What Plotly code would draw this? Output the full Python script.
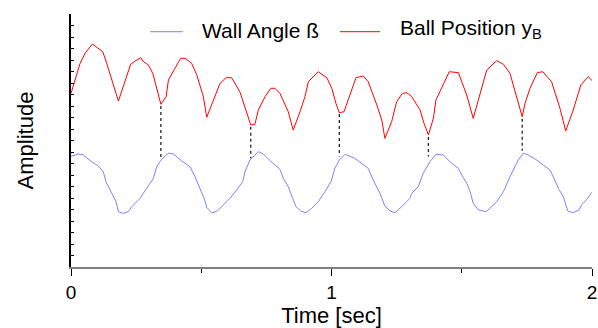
import plotly.graph_objects as go

# Ball position y_B (red)
red_t = [0.0, 0.035, 0.054, 0.082, 0.122, 0.137, 0.182, 0.214, 0.229, 0.246, 0.268, 0.278,
         0.297, 0.314, 0.329, 0.345, 0.365, 0.374, 0.399, 0.421, 0.438, 0.463, 0.483, 0.508,
         0.521, 0.553, 0.572, 0.595, 0.617, 0.649, 0.672, 0.690, 0.706, 0.719, 0.745, 0.767,
         0.783, 0.802, 0.834, 0.853, 0.879, 0.898, 0.911, 0.949, 0.982, 1.001, 1.017, 1.030,
         1.048, 1.071, 1.094, 1.122, 1.141, 1.174, 1.193, 1.205, 1.231, 1.250, 1.272, 1.290,
         1.308, 1.340, 1.355, 1.372, 1.391, 1.401, 1.423, 1.452, 1.487, 1.519, 1.544, 1.580,
         1.596, 1.634, 1.660, 1.685, 1.704, 1.732, 1.743, 1.762, 1.790, 1.811, 1.845, 1.877,
         1.899, 1.928, 1.957, 1.986, 2.0]
red_y = [15.1, 17.71, 18.58, 19.39, 18.72, 17.71, 14.43, 16.55, 17.63, 17.91, 18.2, 17.85,
         17.57, 16.84, 15.54, 14.15, 14.81, 16.26, 17.28, 18.15, 18.15, 17.71, 16.7, 14.81,
         13.02, 14.96, 15.97, 16.46, 16.46, 15.2, 13.65, 12.35, 12.41, 13.65, 14.81, 15.54,
         15.54, 15.10, 13.50, 11.91, 13.50, 14.81, 16.11, 16.98, 16.46, 15.54, 14.23, 13.42,
         13.50, 14.96, 16.46, 16.61, 16.11, 14.09, 12.78, 11.19, 12.64, 14.37, 15.10, 15.15,
         14.81, 13.65, 12.50, 11.48, 12.93, 14.52, 15.54, 16.98, 16.90, 14.96, 12.93, 15.83,
         17.13, 17.94, 17.63, 16.84, 15.24, 13.07, 14.23, 15.54, 16.90, 16.98, 16.11, 13.80,
         11.83, 13.65, 15.83, 16.55, 16.2]

# Wall angle beta (blue)
blue_t = [0.0, 0.028, 0.047, 0.079, 0.105, 0.124, 0.134, 0.156, 0.173, 0.182, 0.201, 0.220,
          0.233, 0.265, 0.291, 0.316, 0.329, 0.348, 0.374, 0.393, 0.425, 0.457, 0.476, 0.495,
          0.511, 0.521, 0.540, 0.559, 0.585, 0.610, 0.636, 0.659, 0.668, 0.687, 0.719, 0.738,
          0.764, 0.802, 0.815, 0.834, 0.851, 0.864, 0.882, 0.902, 0.924, 0.949, 0.975, 0.998,
          1.013, 1.030, 1.052, 1.090, 1.141, 1.160, 1.186, 1.205, 1.225, 1.244, 1.269, 1.301,
          1.308, 1.333, 1.352, 1.378, 1.401, 1.429, 1.461, 1.487, 1.500, 1.519, 1.532, 1.544,
          1.564, 1.593, 1.608, 1.634, 1.660, 1.685, 1.717, 1.736, 1.755, 1.788, 1.813, 1.839,
          1.854, 1.871, 1.890, 1.907, 1.928, 1.950, 1.960, 1.980, 2.0]
blue_y = [9.62, 9.83, 9.74, 9.16, 8.78, 8.29, 7.42, 6.41, 5.68, 4.81, 4.67, 4.81,
          5.24, 5.97, 6.84, 7.71, 8.72, 9.37, 9.89, 9.83, 9.22, 8.72, 7.85, 6.84,
          5.97, 5.19, 4.72, 4.81, 5.39, 5.97, 6.70, 7.42, 8.29, 9.30, 10.03, 9.83,
          9.24, 8.50, 7.71, 6.98, 5.97, 5.24, 4.87, 4.72, 5.10, 5.68, 6.55, 7.42,
          8.58, 9.30, 9.80, 9.45, 8.58, 7.57, 6.41, 5.30, 4.87, 4.72, 5.24, 5.97,
          6.41, 6.98, 8.15, 9.16, 9.80, 9.74, 9.02, 8.58, 8.00, 7.28, 6.55, 5.54,
          4.96, 4.81, 5.10, 5.68, 6.55, 7.85, 9.30, 9.89, 9.74, 9.30, 8.87, 8.43,
          7.71, 6.84, 6.11, 4.87, 4.72, 4.96, 5.39, 5.89, 6.5]

# Dashed connectors (red minimum -> blue)
dash_t = [0.345, 0.690, 1.030, 1.372, 1.732]
dash_top = [14.0, 12.2, 13.3, 11.3, 12.9]
dash_bottom = [9.55, 9.45, 9.6, 9.6, 10.1]

series_names = ["Wall Angle ß", "Ball Position y<sub>B</sub>"]
series_colors = ["#8080ff", "#ff0000"]

xs, ys = [], []
for t, a, b in zip(dash_t, dash_top, dash_bottom):
    xs += [t, t, None]
    ys += [a, b, None]

fig = go.Figure()
fig.add_trace(go.Scatter(x=xs, y=ys, mode="lines", showlegend=False, hoverinfo="skip",
                         line=dict(color="#222222", width=1.3, dash="3px,3px")))
fig.add_trace(go.Scatter(x=blue_t, y=blue_y, mode="lines", name=series_names[0],
                         showlegend=False, line=dict(color=series_colors[0], width=1)))
fig.add_trace(go.Scatter(x=red_t, y=red_y, mode="lines", name=series_names[1],
                         showlegend=False, line=dict(color=series_colors[1], width=1)))

# Custom legend (paper coordinates)
legend_line_x = [(0.1516, 0.215), (0.5163, 0.5931)]
legend_text_x = [0.2480, 0.6280]
legend_text_dy = [0.004, 0.012]
legend_y = 0.930
for (x0, x1), tx, dy, name, col in zip(legend_line_x, legend_text_x, legend_text_dy,
                                       series_names, series_colors):
    fig.add_shape(type="line", xref="paper", yref="paper", x0=x0, x1=x1,
                  y0=legend_y, y1=legend_y, line=dict(color=col, width=1))
    fig.add_annotation(xref="paper", yref="paper", x=tx, y=legend_y + dy,
                       text=name, showarrow=False, xanchor="left", yanchor="middle",
                       font=dict(size=21, color="black"))

font = "Liberation Sans, Arial, sans-serif"
fig.update_layout(
    width=598, height=328,
    margin=dict(l=71, r=6, t=14, b=61),
    paper_bgcolor="white", plot_bgcolor="white",
    font=dict(family=font, size=18, color="black"),
    showlegend=False,
    xaxis=dict(range=[0, 2], tickvals=[0, 1, 2], ticktext=["0", "1", "2"],
               showgrid=False, zeroline=False, showline=True, linecolor="#808080",
               linewidth=2, ticks="outside", ticklen=7, tickcolor="black", tickwidth=1,
               minor=dict(tickvals=[0.5, 1.5], ticks="outside", ticklen=4,
                          tickcolor="black", tickwidth=1),
               automargin=False,
               title=dict(text="Time [sec]", standoff=4), tickfont=dict(size=19)),
    yaxis=dict(range=[0, 22], dtick=1, showticklabels=False, showgrid=False,
               zeroline=False, showline=True, linecolor="black", linewidth=1.5,
               ticks="inside", ticklen=3, tickcolor="black", tickwidth=1,
               automargin=False,
               title=dict(text="Amplitude", standoff=30)),
)

fig.write_html("out.html")
